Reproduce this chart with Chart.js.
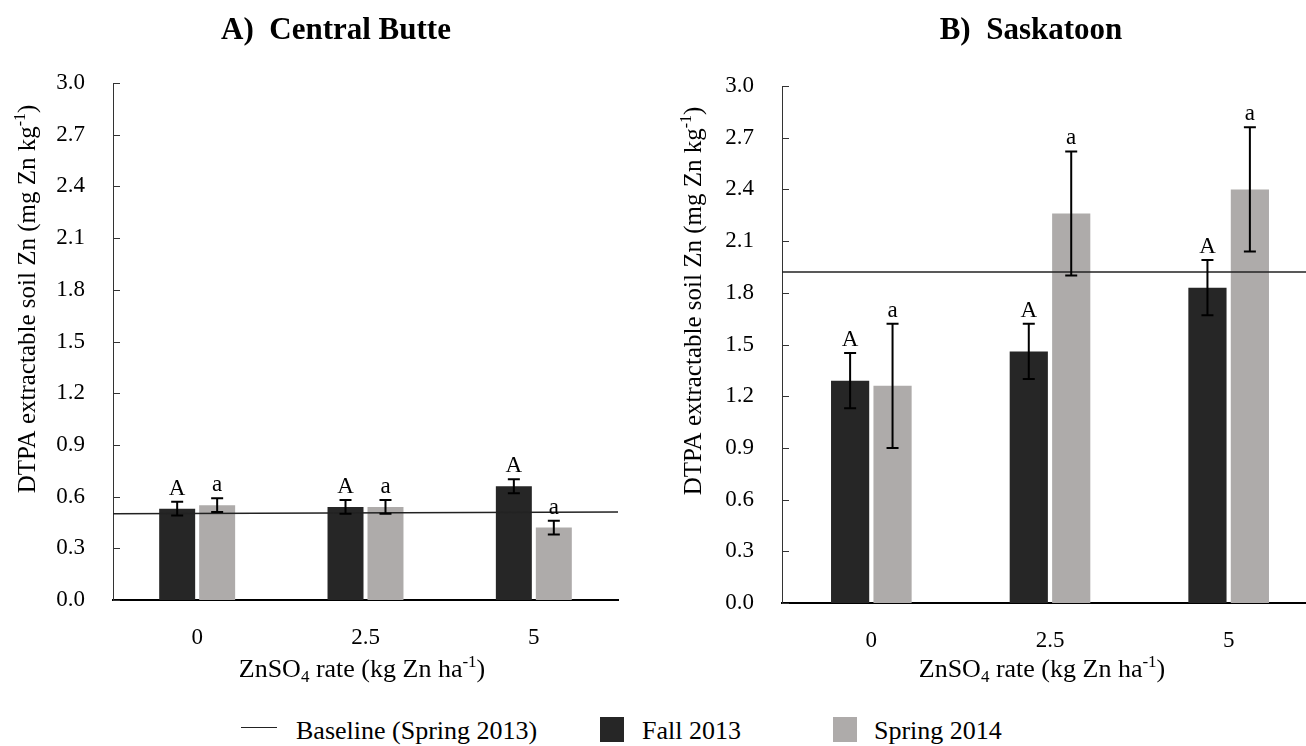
<!DOCTYPE html>
<html>
<head>
<meta charset="utf-8">
<script src="https://cdn.jsdelivr.net/npm/chart.js@4.4.1/dist/chart.umd.min.js"></script>
<style>
  html, body { margin: 0; padding: 0; width: 1306px; height: 746px; overflow: hidden; background: #fff; }
  body { position: relative; font-family: "Liberation Serif", "Times New Roman", serif; color: #000; }
  canvas { position: absolute; top: 0; }
  #chartA { left: 0; }
  #chartB { left: 650px; }
  .ptitle { position: absolute; top: 13px; font-size: 31px; line-height: 31px; font-weight: bold; white-space: pre; transform: translateX(-50%); }
  .ltext { position: absolute; top: 718px; font-size: 26px; line-height: 26px; white-space: pre; }
  .lbox { position: absolute; top: 717px; width: 24px; height: 25px; }
  .lline { position: absolute; top: 727px; width: 36px; height: 0; border-top: 1.5px solid #222; }
</style>
</head>
<body>
<canvas id="chartA" width="650" height="700"></canvas>
<canvas id="chartB" width="700" height="700"></canvas>

<div class="ptitle" style="left:336px">A)  Central Butte</div>
<div class="ptitle" style="left:1031px">B)  Saskatoon</div>

<span class="lline" style="left:241px"></span>
<span class="ltext" style="left:296px">Baseline (Spring 2013)</span>
<span class="lbox" id="boxFall" style="left:600px"></span>
<span class="ltext" style="left:642px">Fall 2013</span>
<span class="lbox" id="boxSpring" style="left:833px"></span>
<span class="ltext" style="left:874px">Spring 2014</span>

<script>
// data
const categories = ['0', '2.5', '5'];

const fallA = [0.53, 0.54, 0.66];
const fallErrA = [0.04, 0.04, 0.04];
const springA = [0.55, 0.54, 0.42];
const springErrA = [0.04, 0.04, 0.04];
const baselineA = [0.50, 0.51];

const fallB = [1.29, 1.46, 1.83];
const fallErrB = [0.16, 0.16, 0.16];
const springB = [1.26, 2.26, 2.40];
const springErrB = [0.36, 0.36, 0.36];
const baselineB = [1.92, 1.92];

const fallLetters = ['A', 'A', 'A'];
const springLetters = ['a', 'a', 'a'];

const yTickValues = [0, 0.3, 0.6, 0.9, 1.2, 1.5, 1.8, 2.1, 2.4, 2.7, 3.0];
const yTickLabels = ['0.0', '0.3', '0.6', '0.9', '1.2', '1.5', '1.8', '2.1', '2.4', '2.7', '3.0'];

const FALL_COLOR = '#262626';
const SPRING_COLOR = '#aeabaa';
const SERIF = '"Liberation Serif", "Times New Roman", serif';

document.getElementById('boxFall').style.background = FALL_COLOR;
document.getElementById('boxSpring').style.background = SPRING_COLOR;

Chart.defaults.color = '#000';
Chart.defaults.font.family = SERIF;

// error bars + letters on top of each bar
const errorBarPlugin = {
    id: 'errorBars',
    afterDatasetsDraw(chart) {
        const ctx = chart.ctx;
        const y = chart.scales.y;
        chart.data.datasets.forEach((ds, di) => {
            if (!ds.errors) return;
            const meta = chart.getDatasetMeta(di);
            meta.data.forEach((bar, i) => {
                const top = y.getPixelForValue(ds.data[i] + ds.errors[i]);
                const bot = y.getPixelForValue(ds.data[i] - ds.errors[i]);
                ctx.save();
                ctx.strokeStyle = '#000';
                ctx.lineWidth = 2;
                ctx.beginPath();
                ctx.moveTo(bar.x, top); ctx.lineTo(bar.x, bot);
                ctx.moveTo(bar.x - 6, top); ctx.lineTo(bar.x + 6, top);
                ctx.moveTo(bar.x - 6, bot); ctx.lineTo(bar.x + 6, bot);
                ctx.stroke();
                ctx.fillStyle = '#000';
                ctx.font = '23px ' + SERIF;
                ctx.textAlign = 'center';
                ctx.textBaseline = 'alphabetic';
                ctx.fillText(ds.letters[i], bar.x, top - 7);
                ctx.restore();
            });
        });
    }
};

// text with sub/superscripts
function drawRich(ctx, parts, x, y, size, rotate) {
    const small = Math.round(size * 0.65);
    let total = 0;
    parts.forEach(p => {
        ctx.font = (p[1] ? small : size) + 'px ' + SERIF;
        total += ctx.measureText(p[0]).width;
    });
    ctx.save();
    ctx.translate(x, y);
    if (rotate) ctx.rotate(-Math.PI / 2);
    ctx.fillStyle = '#000';
    ctx.textAlign = 'left';
    ctx.textBaseline = 'middle';
    let cx = -total / 2;
    parts.forEach(p => {
        ctx.font = (p[1] ? small : size) + 'px ' + SERIF;
        let dy = 0;
        if (p[1] === 'sub') dy = size * 0.28;
        if (p[1] === 'sup') dy = -size * 0.3;
        ctx.fillText(p[0], cx, dy);
        cx += ctx.measureText(p[0]).width;
    });
    ctx.restore();
}

const xTitleParts = [['ZnSO', ''], ['4', 'sub'], [' rate (kg Zn ha', ''], ['-1', 'sup'], [')', '']];
const yTitleParts = [['DTPA extractable soil Zn (mg Zn kg', ''], ['-1', 'sup'], [')', '']];

// inward y ticks and the two axis titles
const axisDecorPlugin = {
    id: 'axisDecor',
    afterDraw(chart, args, opts) {
        const ctx = chart.ctx;
        const y = chart.scales.y;
        const left = chart.chartArea.left;
        ctx.save();
        ctx.strokeStyle = '#333';
        ctx.lineWidth = 1;
        ctx.beginPath();
        y.ticks.forEach(t => {
            const py = Math.round(y.getPixelForValue(t.value)) + 0.5;
            ctx.moveTo(left, py);
            ctx.lineTo(left + 7, py);
        });
        ctx.stroke();
        ctx.restore();
        drawRich(ctx, xTitleParts, opts.xTitleX, opts.xTitleY, 26, false);
        drawRich(ctx, yTitleParts, opts.yTitleX, opts.yTitleY, 25, true);
    }
};

function makeChart(id, fall, fallErr, spring, springErr, baseline, yAxisWidth, pad, decor) {
    return new Chart(document.getElementById(id), {
        type: 'bar',
        data: {
            labels: categories,
            datasets: [
                {
                    type: 'line',
                    label: 'Baseline (Spring 2013)',
                    data: [{ x: 0, y: baseline[0] }, { x: 1, y: baseline[1] }],
                    xAxisID: 'xb',
                    borderColor: '#222',
                    borderWidth: 1.5,
                    pointRadius: 0,
                    fill: false,
                    clip: false
                },
                {
                    label: 'Fall 2013',
                    data: fall,
                    errors: fallErr,
                    letters: fallLetters,
                    backgroundColor: FALL_COLOR,
                    categoryPercentage: 0.95,
                    barPercentage: 0.9
                },
                {
                    label: 'Spring 2014',
                    data: spring,
                    errors: springErr,
                    letters: springLetters,
                    backgroundColor: SPRING_COLOR,
                    categoryPercentage: 0.95,
                    barPercentage: 0.9
                }
            ]
        },
        options: {
            responsive: false,
            maintainAspectRatio: false,
            animation: false,
            layout: { padding: pad },
            plugins: {
                legend: { display: false },
                tooltip: { enabled: false },
                axisDecor: decor
            },
            scales: {
                x: {
                    type: 'category',
                    grid: { display: false },
                    border: { color: '#000', width: 2 },
                    ticks: { font: { size: 23 }, padding: 16, maxRotation: 0 },
                    afterFit(scale) { scale.height = 60; }
                },
                xb: {
                    type: 'linear',
                    display: false,
                    offset: false,
                    grid: { offset: false },
                    min: 0,
                    max: 1
                },
                y: {
                    min: 0,
                    max: 3,
                    grid: { display: false },
                    border: { color: '#333', width: 1 },
                    afterBuildTicks(scale) {
                        scale.ticks = yTickValues.map(v => ({ value: v }));
                    },
                    ticks: {
                        autoSkip: false,
                        font: { size: 23 },
                        padding: 20,
                        callback: (value, index) => yTickLabels[index]
                    },
                    afterFit(scale) { scale.width = yAxisWidth; }
                }
            }
        },
        plugins: [errorBarPlugin, axisDecorPlugin]
    });
}

makeChart('chartA', fallA, fallErrA, springA, springErrA, baselineA, 113,
    { left: 0, right: 32, top: 83, bottom: 40 },
    { xTitleX: 362, xTitleY: 670, yTitleX: 28, yTitleY: 299 });

makeChart('chartB', fallB, fallErrB, springB, springErrB, baselineB, 132,
    { left: 0, right: 32, top: 86, bottom: 37 },
    { xTitleX: 392, xTitleY: 670, yTitleX: 44, yTitleY: 301 });
</script>
</body>
</html>
